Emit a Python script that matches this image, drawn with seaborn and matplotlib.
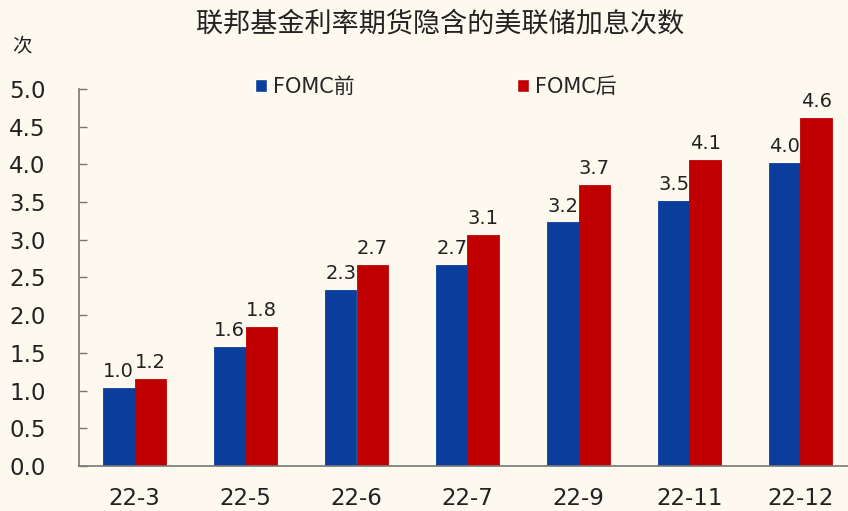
import matplotlib
matplotlib.use("Agg")
import matplotlib.pyplot as plt
import seaborn as sns
import pandas as pd
import numpy as np
from matplotlib.patches import Patch

categories = ["22-3", "22-5", "22-6", "22-7", "22-9", "22-11", "22-12"]
before = [1.03, 1.58, 2.33, 2.67, 3.23, 3.52, 4.02]
after = [1.16, 1.84, 2.66, 3.07, 3.73, 4.06, 4.62]
before_labels = ["1.0", "1.6", "2.3", "2.7", "3.2", "3.5", "4.0"]
after_labels = ["1.2", "1.8", "2.7", "3.1", "3.7", "4.1", "4.6"]
series = ["FOMC前", "FOMC后"]
yticks = [0.0, 0.5, 1.0, 1.5, 2.0, 2.5, 3.0, 3.5, 4.0, 4.5, 5.0]

df = pd.DataFrame({
    "cat": categories * 2,
    "val": before + after,
    "series": [series[0]] * len(categories) + [series[1]] * len(categories),
})

sns.set_theme(style="white")
plt.rcParams['font.family'] = ['DejaVu Sans', 'Noto Sans CJK SC']
bg = "#FDF9EF"
fig = plt.figure(figsize=(8.48, 5.11), dpi=100, facecolor=bg)
ax = fig.add_axes([79/848, 45/511, 769/848, (466-89)/511])
ax.set_facecolor(bg)

palette = {series[0]: "#0A3D9C", series[1]: "#C00000"}
sns.barplot(data=df, x="cat", y="val", hue="series", palette=palette,
            width=0.57, ax=ax, saturation=1, legend=False, linewidth=0)
for p in ax.patches:
    p.set_edgecolor(p.get_facecolor())
    p.set_linewidth(0.6)

for cont, labs in zip(ax.containers, [before_labels, after_labels]):
    ax.bar_label(cont, labels=labs, padding=5, fontsize=14, color="#222222")

ax.set_ylim(0, 5.0)
ax.set_xlim(-0.5, -0.5 + 769/111)
ax.set_yticks(yticks)
ax.set_yticklabels([f"{t:.1f}" for t in yticks], fontsize=16.5, color="#222222")
ax.set_xticks(range(len(categories)))
ax.set_xticklabels(categories, fontsize=16.5, color="#222222")
ax.set_xticks(np.arange(0.5, len(categories) - 0.5, 1), minor=True)
ax.tick_params(axis="x", which="major", length=0, pad=15)
ax.tick_params(axis="x", which="minor", direction="in", length=6, color="#777777", width=1)
ax.tick_params(axis="y", which="major", direction="in", length=6, color="#777777", width=1,
               pad=24, left=True)
ax.set_xlabel("")
ax.set_ylabel("")
for s in ["top", "right"]:
    ax.spines[s].set_visible(False)
for s in ["left", "bottom"]:
    ax.spines[s].set_color("#777777")
    ax.spines[s].set_linewidth(1.2)

handles = [Patch(facecolor=palette[s], label=s) for s in series]
fig.legend(handles=handles, loc="center", bbox_to_anchor=(436/848, 1 - 87/511),
           ncol=2, frameon=False, handlelength=0.55, handleheight=0.55,
           handletextpad=0.3, columnspacing=7.8,
           prop={"family": ["DejaVu Sans", "Noto Sans CJK SC"], "size": 15})

fig.text(440/848, 1 - 24/511, "联邦基金利率期货隐含的美联储加息次数", ha="center", va="center",
         fontsize=19.5, family=["Noto Sans CJK SC"], color="#222222")
fig.text(22/848, 1 - 46/511, "次", ha="center", va="center",
         fontsize=14, family=["Noto Sans CJK SC"], color="#222222")

fig.savefig("out.png", dpi=100, facecolor=bg)
